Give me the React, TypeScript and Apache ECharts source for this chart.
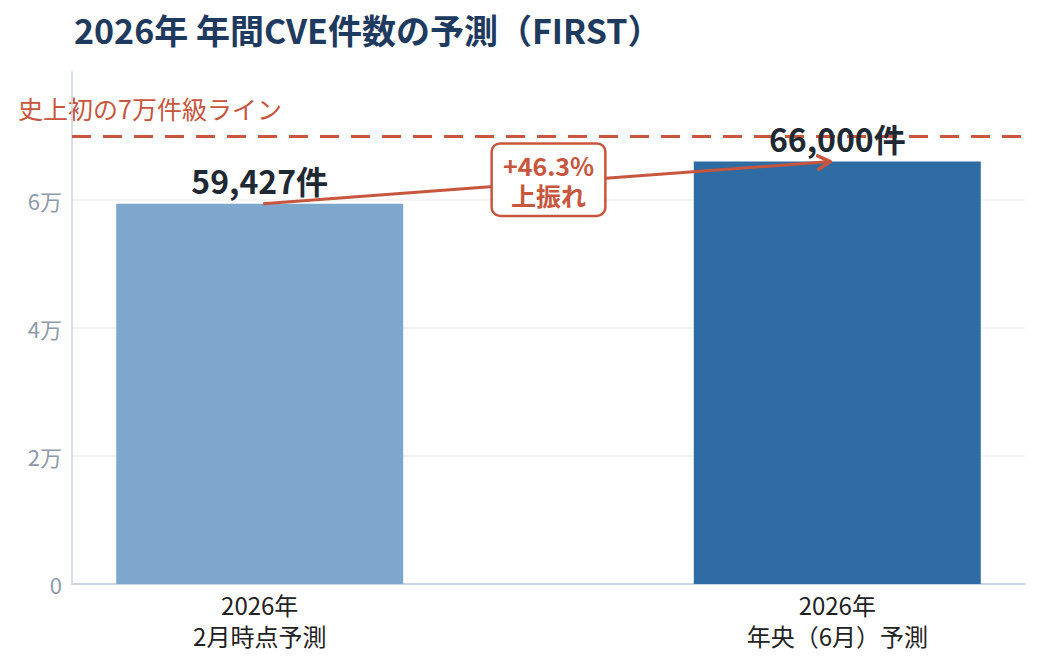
import React, { useEffect, useRef } from "react";
import * as echarts from "echarts";

const categories = ["2026年\n2月時点予測", "2026年\n年央（6月）予測"];
const values = [59427, 66000];
const barColors = ["#7ea7cd", "#2e6ca3"];
const yTicks = [0, 20000, 40000, 60000, 80000];
const thresholdValue = 70000;
const thresholdLabel = "史上初の7万件級ライン";
const changeLabel = "+46.3%\n上振れ";
const titleText = "2026年 年間CVE件数の予測（FIRST）";

const RED = "#c8553d";
const FONT = "'Noto Sans CJK JP', 'Noto Sans', sans-serif";

export default function App() {
  const ref = useRef<HTMLDivElement>(null);
  useEffect(() => {
    document.body.style.margin = "0";
    if (!ref.current) return;
    const chart = echarts.init(ref.current, null, { renderer: "svg" });
    const mid = (values[0] + values[1]) / 2;
    const baseOption: any = {
      animation: false,
      backgroundColor: "#ffffff",
      textStyle: { fontFamily: FONT },
      title: {
        text: titleText,
        left: 69,
        top: 7,
        textStyle: { fontFamily: FONT, fontSize: 34, fontWeight: "bold", color: "#1e3a5f" },
      },
      grid: { left: 72, right: 22, top: 72, bottom: 88 },
      xAxis: {
        type: "value",
        min: -0.325,
        max: 1.325,
        axisLine: { show: true, onZero: false, lineStyle: { color: "#cbd5e1", width: 2 } },
        axisTick: { show: false },
        splitLine: { show: false },
        axisLabel: {
          customValues: [0, 1],
          formatter: (v: number) => categories[Math.round(v)] ?? "",
          color: "#222222",
          fontSize: 24,
          lineHeight: 31,
          margin: 5,
          fontFamily: FONT,
        },
      },
      yAxis: {
        type: "value",
        min: yTicks[0],
        max: yTicks[yTicks.length - 1],
        interval: yTicks[1] - yTicks[0],
        axisLine: { show: true, onZero: false, lineStyle: { color: "#cbd5e1", width: 1.5 } },
        axisTick: { show: false },
        splitLine: { show: true, showMaxLine: false, lineStyle: { color: "#eef1f5", width: 1.5 } },
        axisLabel: {
          showMaxLabel: false,
          formatter: (v: number) => (v === 0 ? "0" : v / 10000 + "万"),
          color: "#8e9aab",
          fontSize: 22,
          margin: 10,
          fontFamily: FONT,
        },
      },
      series: [
        {
          type: "bar",
          barWidth: 287,
          data: values.map((v, i) => ({
            value: [i, v],
            itemStyle: { color: barColors[i] },
          })),
          label: {
            show: true,
            position: "top",
            distance: 8,
            formatter: (p: any) => p.value[1].toLocaleString("en-US") + "件",
            fontSize: 32,
            fontWeight: "bold",
            color: "#1f2933",
            fontFamily: FONT,
          },
          markLine: {
            silent: true,
            symbol: "none",
            label: { show: false },
            lineStyle: { color: RED, width: 3, type: [19, 12] },
            data: [{ yAxis: thresholdValue }],
            z: 1,
          },
          z: 2,
        },
        {
          type: "line",
          data: [
            [0.006, values[0]],
            [0.988, values[1]],
          ],
          showSymbol: false,
          symbol: "none",
          silent: true,
          lineStyle: { color: RED, width: 3 },
          z: 5,
        },
        {
          type: "scatter",
          data: [[0.5, mid]],
          symbolSize: 0,
          silent: true,
          itemStyle: { opacity: 1 },
          label: {
            show: true,
            position: "inside",
            offset: [0, -3],
            formatter: changeLabel,
            fontSize: 25,
            fontWeight: "bold",
            lineHeight: 30,
            color: RED,
            backgroundColor: "#ffffff",
            borderColor: RED,
            borderWidth: 2.5,
            borderRadius: 7,
            padding: [6, 10, 4, 10],
            fontFamily: FONT,
            opacity: 1,
          },
          z: 10,
        },
      ],
      graphic: [
        {
          type: "text",
          left: 18,
          top: 95,
          style: { text: thresholdLabel, fontSize: 25, fill: RED, fontFamily: FONT },
        },
      ],
    };
    chart.setOption(baseOption);

    // arrowhead at the end of the arrow line
    const end = chart.convertToPixel({ gridIndex: 0 }, [0.988, values[1]]) as number[];
    const start = chart.convertToPixel({ gridIndex: 0 }, [0.006, values[0]]) as number[];
    const ang = Math.atan2(end[1] - start[1], end[0] - start[0]);
    const L = 14;
    const spread = 0.5;
    chart.setOption({
      graphic: [
        baseOption.graphic[0],
        {
          type: "polyline",
          z: 20,
          shape: {
            points: [
              [end[0] - L * Math.cos(ang - spread), end[1] - L * Math.sin(ang - spread)],
              [end[0], end[1]],
              [end[0] - L * Math.cos(ang + spread), end[1] - L * Math.sin(ang + spread)],
            ],
          },
          style: { stroke: RED, lineWidth: 3.5, fill: null, lineCap: "round", lineJoin: "round" },
        },
      ],
    });
    return () => chart.dispose();
  }, []);
  return <div ref={ref} style={{ width: 1047, height: 672 }} />;
}
